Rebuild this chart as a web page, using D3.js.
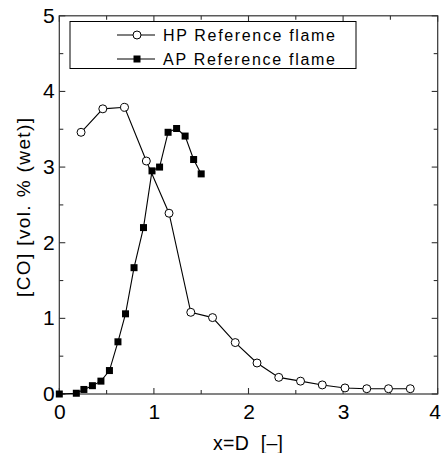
<!DOCTYPE html>
<html><head><meta charset="utf-8">
<script src="https://cdn.jsdelivr.net/npm/d3@7"></script>
<style>body{margin:0;background:#fff}svg{display:block}</style>
</head><body>
<script>
const hpX = [0.23,0.46,0.69,0.92,1.16,1.39,1.62,1.86,2.09,2.32,2.55,2.78,3.02,3.25,3.48,3.71];
const hpY = [3.46,3.77,3.79,3.08,2.39,1.08,1.01,0.68,0.41,0.22,0.17,0.12,0.08,0.07,0.07,0.07];
const apX = [0,0.18,0.26,0.35,0.44,0.53,0.62,0.70,0.79,0.89,0.98,1.06,1.15,1.24,1.33,1.42,1.50];
const apY = [0,0.01,0.06,0.11,0.17,0.31,0.69,1.06,1.67,2.20,2.95,3.00,3.46,3.51,3.41,3.10,2.91];
const xTicks = [0,1,2,3,4];
const yTicks = [0,1,2,3,4,5];
const legendLabels = ["HP Reference flame","AP Reference flame"];

const W=442,H=453, L=59.3, R=437.7, T=15.8, B=394;
const svg=d3.select("body").append("svg").attr("width",W).attr("height",H);
const x=d3.scaleLinear().domain([0,4]).range([L,R]);
const y=d3.scaleLinear().domain([0,5]).range([B,T]);
const font="'Liberation Sans', Arial, sans-serif";
const col="#000";

svg.append("rect").attr("x",L).attr("y",T).attr("width",R-L).attr("height",B-T)
  .attr("fill","none").attr("stroke","#333").attr("stroke-width",1.2);

const minorX=d3.range(0,4.01,0.5), minorY=d3.range(0,5.01,0.5);
const g=svg.append("g").attr("stroke","#333").attr("stroke-width",1.1);
minorX.forEach(v=>{const len=(Math.abs(v-Math.round(v))<1e-6)?6:4;
  g.append("line").attr("x1",x(v)).attr("x2",x(v)).attr("y1",B).attr("y2",B-len);
  g.append("line").attr("x1",x(v)).attr("x2",x(v)).attr("y1",T).attr("y2",T+len);});
minorY.forEach(v=>{const len=(Math.abs(v-Math.round(v))<1e-6)?6:4;
  g.append("line").attr("y1",y(v)).attr("y2",y(v)).attr("x1",L).attr("x2",L+len);
  g.append("line").attr("y1",y(v)).attr("y2",y(v)).attr("x1",R).attr("x2",R-len);});

svg.append("g").selectAll("text").data(xTicks).join("text")
  .attr("x",d=>Math.min(x(d)+0.5, W-7)).attr("y",B+25).attr("text-anchor","middle")
  .attr("font-family",font).attr("font-size",21).attr("fill",col).text(d=>d);
svg.append("g").selectAll("text").data(yTicks).join("text")
  .attr("x",L-4.5).attr("y",d=>y(d)+7).attr("text-anchor","end")
  .attr("font-family",font).attr("font-size",21).attr("fill",col).text(d=>d);

svg.append("text").attr("x",213).attr("y",450)
  .attr("font-family",font).attr("font-size",19.5).attr("fill",col)
  .attr("textLength",70).attr("lengthAdjust","spacing").attr("xml:space","preserve").text("x=D  [–]");
svg.append("text").attr("transform","translate(30,297) rotate(-90)")
  .attr("font-family",font).attr("font-size",19).attr("fill",col)
  .attr("textLength",179).attr("lengthAdjust","spacing").text("[CO] [vol. % (wet)]");

const line=d3.line().x(d=>x(d[0])).y(d=>y(d[1]));
const hp=hpX.map((v,i)=>[v,hpY[i]]), ap=apX.map((v,i)=>[v,apY[i]]);
svg.append("path").attr("d",line(hp)).attr("fill","none").attr("stroke",col).attr("stroke-width",1.1);
svg.append("path").attr("d",line(ap)).attr("fill","none").attr("stroke",col).attr("stroke-width",1.1);
svg.append("g").selectAll("circle").data(hp).join("circle")
  .attr("cx",d=>x(d[0])).attr("cy",d=>y(d[1])).attr("r",4)
  .attr("fill","#fff").attr("stroke",col).attr("stroke-width",1);
svg.append("g").selectAll("rect").data(ap).join("rect")
  .attr("x",d=>x(d[0])-3.5).attr("y",d=>y(d[1])-3.5).attr("width",7).attr("height",7).attr("fill",col);

const lg=svg.append("g");
lg.append("rect").attr("x",70).attr("y",21.5).attr("width",286).attr("height",47)
  .attr("fill","#fff").attr("stroke",col).attr("stroke-width",1);
[35,59].forEach((ly,i)=>{
  lg.append("line").attr("x1",117).attr("x2",155).attr("y1",ly).attr("y2",ly).attr("stroke",col).attr("stroke-width",1.1);
  if(i===0) lg.append("circle").attr("cx",137).attr("cy",ly).attr("r",4).attr("fill","#fff").attr("stroke",col);
  else lg.append("rect").attr("x",133.5).attr("y",ly-3.5).attr("width",7).attr("height",7).attr("fill",col);
  lg.append("text").attr("x",163).attr("y",ly+5.5).attr("font-family",font).attr("font-size",16)
    .attr("fill",col).attr("textLength",172).attr("lengthAdjust","spacing").text(legendLabels[i]);
});
</script>
</body></html>
